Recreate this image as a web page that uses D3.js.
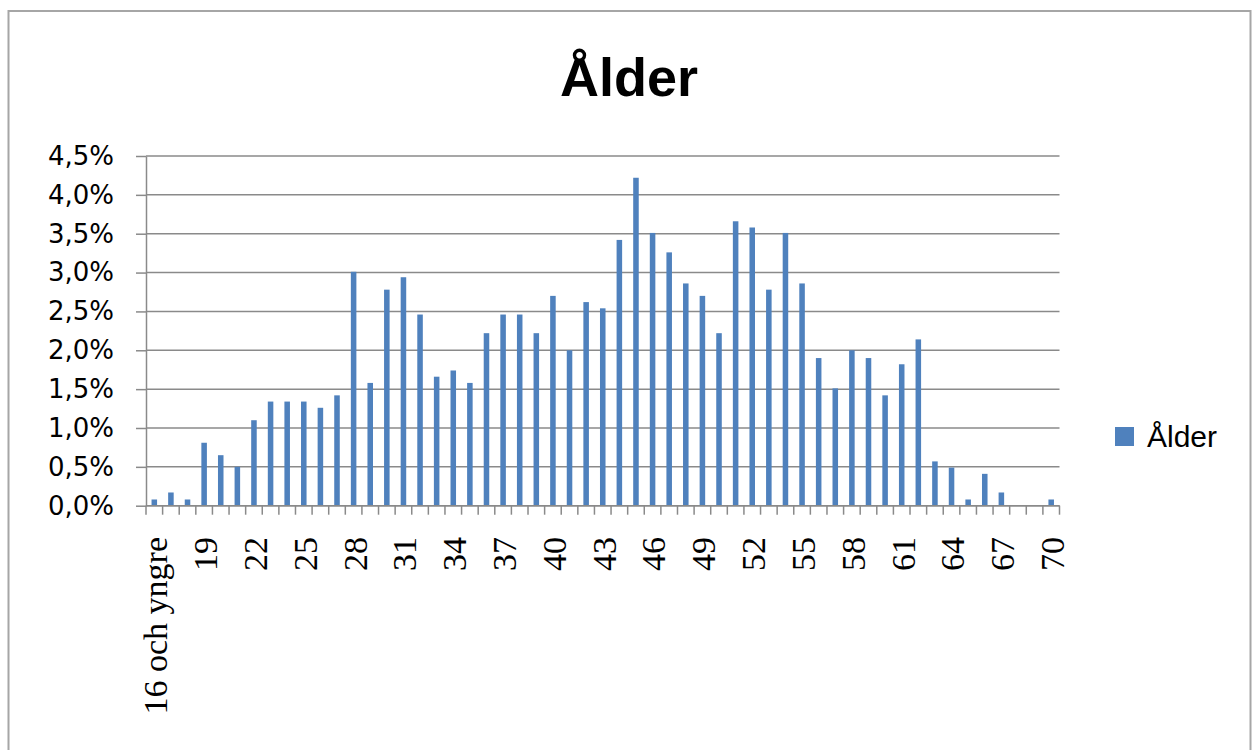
<!DOCTYPE html>
<html>
<head>
<meta charset="utf-8">
<script src="https://cdn.jsdelivr.net/npm/d3@7"></script>
<style>
  html, body { margin: 0; padding: 0; background: #fff; }
  svg { display: block; }
</style>
</head>
<body>
<svg id="chart" width="1252" height="750"></svg>
<script>
// Age categories: "16 och yngre", then single years 17..70
const categories = ["16 och yngre"].concat(d3.range(17, 71).map(String));

// Share of respondents per age (percent)
const values = [
  0.08, 0.17, 0.08, 0.81, 0.65, 0.50, 1.10, 1.34, 1.34, 1.34,
  1.26, 1.42, 3.01, 1.58, 2.78, 2.94, 2.46, 1.66, 1.74, 1.58,
  2.22, 2.46, 2.46, 2.22, 2.70, 2.00, 2.62, 2.54, 3.42, 4.22,
  3.51, 3.26, 2.86, 2.70, 2.22, 3.66, 3.58, 2.78, 3.51, 2.86,
  1.90, 1.51, 2.00, 1.90, 1.42, 1.82, 2.14, 0.57, 0.49, 0.08,
  0.41, 0.17, 0.00, 0.00, 0.08
];

// Y axis ticks (percent) and labels shown on the x axis
const yTicks = [0, 0.5, 1, 1.5, 2, 2.5, 3, 3.5, 4, 4.5];
const xLabelEvery = 3;

const seriesName = "Ålder";
const title = "Ålder";

const svg = d3.select("#chart");
const barColor = "#4F81BD";
const gridColor = "#8a8a8a";

// Outer chart frame
svg.append("rect")
  .attr("x", 8.5).attr("y", 11)
  .attr("width", 1242).attr("height", 760)
  .attr("fill", "#fff")
  .attr("stroke", "#a6a6a6")
  .attr("stroke-width", 2);

const plot = { left: 146, right: 1059.5, top: 156, bottom: 505.7 };

const x = d3.scaleBand()
  .domain(categories)
  .range([plot.left, plot.right])
  .padding(0);

const y = d3.scaleLinear()
  .domain([0, 4.5])
  .range([plot.bottom, plot.top]);

// Horizontal gridlines
svg.append("g")
  .selectAll("line")
  .data(yTicks)
  .join("line")
  .attr("x1", plot.left)
  .attr("x2", plot.right)
  .attr("y1", d => y(d))
  .attr("y2", d => y(d))
  .attr("stroke", gridColor)
  .attr("stroke-width", 1.5);

// Y axis
const fmt = d => d.toFixed(1).replace(".", ",") + "%";
const yAxis = svg.append("g")
  .attr("transform", `translate(${plot.left},0)`)
  .call(d3.axisLeft(y).tickValues(yTicks).tickFormat(fmt).tickSize(10).tickSizeOuter(0).tickPadding(22));
yAxis.select(".domain").attr("stroke", gridColor).attr("stroke-width", 1.5);
yAxis.selectAll(".tick line").attr("stroke", gridColor).attr("stroke-width", 1.5);
yAxis.selectAll(".tick text")
  .attr("font-family", "DejaVu Sans, sans-serif")
  .attr("font-size", 26)
  .attr("fill", "#000");

// Bars: one third of each band, centred
const barW = x.bandwidth() / 3;
svg.append("g")
  .selectAll("rect")
  .data(values)
  .join("rect")
  .attr("x", (d, i) => x(categories[i]) + (x.bandwidth() - barW) / 2)
  .attr("width", barW)
  .attr("y", d => y(d))
  .attr("height", d => y(0) - y(d))
  .attr("fill", barColor);

// X axis line and tick marks at category boundaries
svg.append("line")
  .attr("x1", plot.left).attr("x2", plot.right)
  .attr("y1", y(0)).attr("y2", y(0))
  .attr("stroke", gridColor).attr("stroke-width", 1.5);

const boundaries = categories.map(c => x(c)).concat([x(categories[categories.length - 1]) + x.bandwidth()]);
svg.append("g")
  .selectAll("line")
  .data(boundaries)
  .join("line")
  .attr("x1", d => d).attr("x2", d => d)
  .attr("y1", y(0)).attr("y2", y(0) + 9)
  .attr("stroke", gridColor)
  .attr("stroke-width", 1.5);

// Rotated category labels, every third category
svg.append("g")
  .selectAll("text")
  .data(categories.filter((c, i) => i % xLabelEvery === 0))
  .join("text")
  .attr("transform", d => `translate(${x(d) + x.bandwidth() / 2 + 1},537) rotate(-90)`)
  .attr("text-anchor", "end")
  .attr("dy", "0.35em")
  .attr("font-family", "Liberation Serif, Times New Roman, serif")
  .attr("font-size", 34)
  .attr("fill", "#000")
  .text(d => d);

// Title
svg.append("text")
  .attr("x", 629).attr("y", 96)
  .attr("text-anchor", "middle")
  .attr("font-family", "Liberation Sans, Arial, sans-serif")
  .attr("font-weight", "bold")
  .attr("font-size", 54)
  .attr("fill", "#000")
  .text(title);

// Legend
const legend = svg.append("g").attr("transform", "translate(1115,427)");
legend.append("rect")
  .attr("width", 19).attr("height", 19)
  .attr("fill", barColor);
legend.append("text")
  .attr("x", 32).attr("y", 19.5)
  .attr("font-family", "Liberation Sans, Arial, sans-serif")
  .attr("font-size", 30)
  .attr("fill", "#000")
  .text(seriesName);
</script>
</body>
</html>
